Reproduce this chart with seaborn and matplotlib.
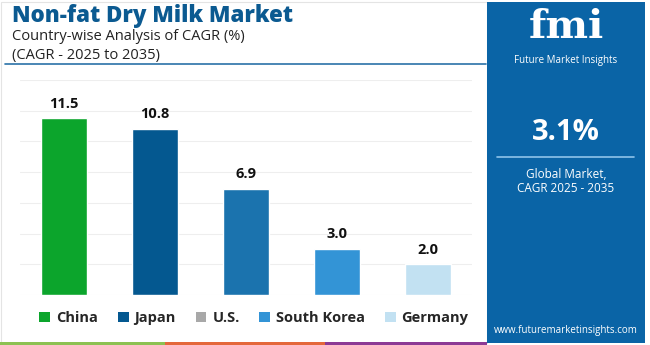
import matplotlib
matplotlib.use("Agg")
import matplotlib.pyplot as plt
from matplotlib.patches import Rectangle, Patch
from matplotlib.lines import Line2D
import seaborn as sns
import pandas as pd

countries = ["China", "Japan", "U.S.", "South Korea", "Germany"]
cagr = [11.5, 10.8, 6.9, 3.0, 2.0]
bar_colors = ["#0ca52c", "#045890", "#1b73ae", "#3394d6", "#c2e1f2"]
legend_colors = ["#0ca52c", "#045890", "#a8a8a8", "#3394d6", "#c2e1f2"]
title = "Non-fat Dry Milk Market"
subtitle1 = "Country-wise Analysis of CAGR (%)"
subtitle2 = "(CAGR - 2025 to 2035)"
global_cagr = "3.1%"

sns.set_theme(style="white")
plt.rcParams["font.family"] = ["Open Sans", "DejaVu Sans"]

W, H = 650, 345
fig = plt.figure(figsize=(6.5, 3.45), dpi=100)
fig.patch.set_facecolor("white")

def fx(x):
    return x / W

def fy(y):
    return 1 - y / H

# border of left panel
fig.add_artist(Rectangle((fx(1), fy(343)), fx(486), 341 / H, transform=fig.transFigure,
                         facecolor="none", edgecolor="#e4e4e4", lw=0.8))

# titles
fig.text(fx(12), fy(16), title, fontsize=16, fontweight="heavy", color="#0b5a91", va="center")
fig.text(fx(12), fy(37), subtitle1, fontsize=10.5, color="#222222", va="center")
fig.text(fx(12), fy(56), subtitle2, fontsize=10.5, color="#222222", va="center")
fig.add_artist(Line2D([fx(5), fx(486)], [fy(64), fy(64)], transform=fig.transFigure,
                      color="#2a72a8", lw=1.2))

# bar axes
ax = fig.add_axes([fx(20), fy(295), fx(452), (295 - 80) / H])
df = pd.DataFrame({"country": countries, "cagr": cagr})
sns.barplot(data=df, x="country", y="cagr", hue="country", palette=bar_colors,
            order=countries, hue_order=countries, width=0.5, legend=False, ax=ax,
            saturation=1)
ax.set_xlim(-0.48, 4.48)
ax.set_ylim(0, 14)
ax.set_yticks([0, 2, 4, 6, 8, 10, 12, 14])
ax.yaxis.grid(True, color="#eeeeee", lw=0.8)
ax.set_axisbelow(True)
for s in ax.spines.values():
    s.set_visible(False)
ax.set_xticks([])
ax.set_yticklabels([])
ax.tick_params(left=False, bottom=False)
ax.set_xlabel("")
ax.set_ylabel("")
for i, v in enumerate(cagr):
    ax.text(i, v + 0.5, f"{v:.1f}", ha="center", va="bottom", fontsize=10.5,
            fontweight="bold", color="#111111")

# legend
handles = [Patch(facecolor=c, edgecolor="none") for c in legend_colors]
fig.legend(handles, countries, loc="center", bbox_to_anchor=(fx(254), fy(318)), ncol=5,
           frameon=False, prop={"weight": "bold", "size": 10.5}, handlelength=0.75,
           handleheight=0.75, handletextpad=0.4, columnspacing=1.35)

# bottom strip
for x0, x1, c in [(0, 165, "#8cc152"), (165, 325, "#e4683b"), (325, 487, "#8c3a95")]:
    fig.add_artist(Rectangle((fx(x0), 0), fx(x1 - x0), 3.5 / H, transform=fig.transFigure,
                             facecolor=c, edgecolor="none"))

# right panel
fig.add_artist(Rectangle((fx(487), fy(343)), fx(158), 341 / H, transform=fig.transFigure,
                         facecolor="#0a64a6", edgecolor="none"))
fig.text(fx(566), fy(27), "fmi", fontsize=29, fontweight="bold", color="white",
         ha="center", va="center", family=["DejaVu Serif"])
fig.text(fx(566), fy(60), "Future Market Insights", fontsize=7, color="white",
         ha="center", va="center")
fig.text(fx(566), fy(132), global_cagr, fontsize=21, fontweight="bold", color="white",
         ha="center", va="center")
fig.add_artist(Line2D([fx(497), fx(634)], [fy(157), fy(157)], transform=fig.transFigure,
                      color="#8fc3ea", lw=1.2))
fig.text(fx(566), fy(174), "Global Market,", fontsize=8.5, color="white", ha="center", va="center")
fig.text(fx(566), fy(189), "CAGR 2025 - 2035", fontsize=8.5, color="white", ha="center", va="center")
fig.text(fx(566), fy(330), "www.futuremarketinsights.com", fontsize=7, color="white",
         ha="center", va="center")

fig.savefig("out.png", dpi=100, facecolor="white")
